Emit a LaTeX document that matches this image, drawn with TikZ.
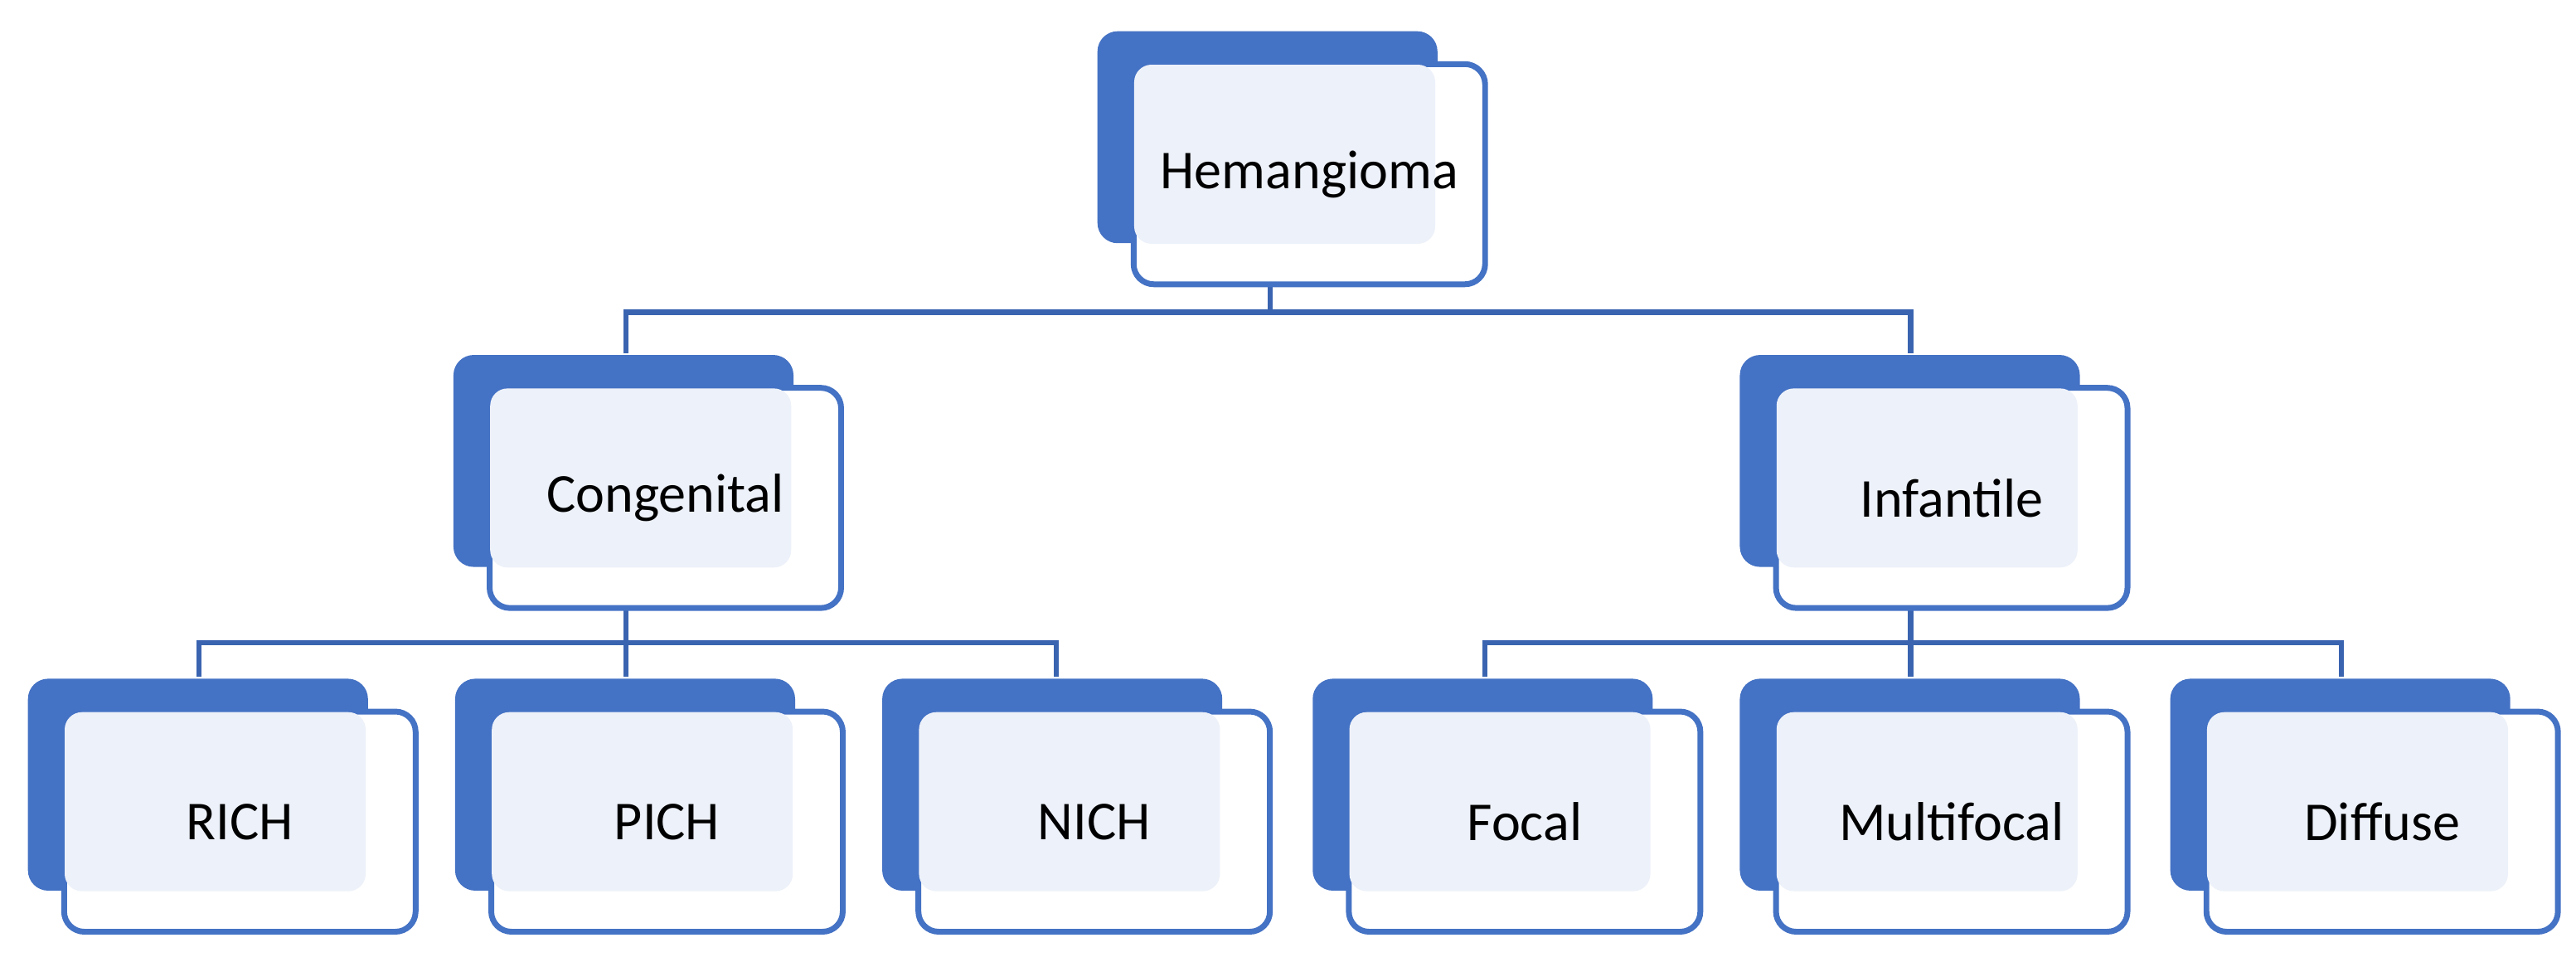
\documentclass[tikz,border=0pt]{standalone}
\usepackage{fontspec}
\setmainfont{Carlito}
\usepackage{tikz}
\usetikzlibrary{positioning}
\definecolor{accent}{HTML}{4472C4}
\definecolor{pale}{HTML}{EDF1F9}
\definecolor{wire}{HTML}{3A64B0}
\tikzstyle{front} = [rectangle, rounded corners=7pt, minimum width=4.28cm, minimum height=2.68cm, draw=accent, line width=2pt, fill=white]
\tikzstyle{back} = [rectangle, rounded corners=7pt, minimum width=4.14cm, minimum height=2.58cm, fill=accent, inner sep=0pt]
\tikzstyle{label} = [font=\fontsize{19}{23}\selectfont]
\tikzstyle{link} = [wire, line width=1.8pt]
% one box: shadow, frame, pale inner part and the label
\newcommand{\tile}[4]{%
  \node (#1b) [back] at (#2-25.5,#3-22.5) {};
  \node (#1) [front] at (#2,#3) {};
  \fill[pale, rounded corners=6pt] ([xshift=1.2pt,yshift=-1.2pt]#1.north west) rectangle ([xshift=-1pt]#1b.south east);
  \node[label] at (#1.center) {#4};
}
\begin{document}
\begin{tikzpicture}[x=0.02cm,y=-0.02cm]
  \useasboundingbox (0,0) rectangle (1568,585);
  % connectors first, boxes sit over them
  \coordinate (topbar) at (773,190);
  \coordinate (leftbar) at (381,391);
  \coordinate (rightbar) at (1163,391);
  \draw[link] (773,172) -- (topbar);
  \draw[link] (381,215) |- (topbar) -| (1163,215);
  \draw[link] (381,370) -- (leftbar);
  \draw[link] (121,412) |- (leftbar) -| (643,412);
  \draw[link] (leftbar) -- (381,412);
  \draw[link] (1163,370) -- (rightbar);
  \draw[link] (904,412) |- (rightbar) -| (1425,412);
  \draw[link] (rightbar) -- (1163,412);
  \tile{hem}{797}{106}{Hemangioma}
  \tile{cong}{405}{303}{Congenital}
  \tile{inf}{1188}{303}{Infantile}
  \tile{rich}{146}{500}{RICH}
  \tile{pich}{406}{500}{PICH}
  \tile{nich}{666}{500}{NICH}
  \tile{focal}{928}{500}{Focal}
  \tile{multi}{1188}{500}{Multifocal}
  \tile{diffuse}{1450}{500}{Diffuse}
\end{tikzpicture}
\end{document}
